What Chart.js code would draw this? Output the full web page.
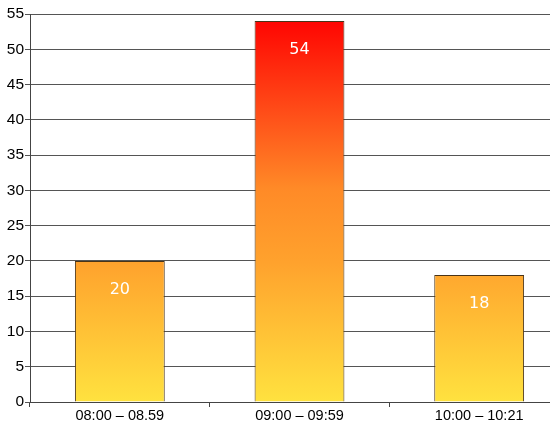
<!DOCTYPE html>
<html>
<head>
<meta charset="utf-8">
<script src="https://cdn.jsdelivr.net/npm/chart.js@4/dist/chart.umd.min.js"></script>
<style>
  html, body { margin: 0; padding: 0; background: #fff; overflow: hidden; }
  #wrap { width: 570px; height: 430px; }
</style>
</head>
<body>
<div id="wrap"><canvas id="chart1"></canvas></div>
<script>
const categories = ['08:00 \u2013 08.59', '09:00 \u2013 09:59', '10:00 \u2013 10:21'];
const counts = [20, 54, 18];
const yTicks = [0, 5, 10, 15, 20, 25, 30, 35, 40, 45, 50, 55];

// fill follows the y value: yellow at 0, red at the top of the axis
function barFill(context) {
    const area = context.chart.chartArea;
    if (!area) return '#ffb030';
    const g = context.chart.ctx.createLinearGradient(0, area.bottom, 0, area.top);
    g.addColorStop(0, '#ffe23f');
    g.addColorStop(0.36, '#ffa22d');
    g.addColorStop(0.55, '#ff8a27');
    g.addColorStop(0.75, '#ff4c18');
    g.addColorStop(1, '#ff0000');
    return g;
}

const valueLabels = {
    id: 'valueLabels',
    afterDatasetsDraw(chart) {
        const ctx = chart.ctx;
        const meta = chart.getDatasetMeta(0);
        ctx.save();
        ctx.fillStyle = '#ffffff';
        ctx.font = '16px "DejaVu Sans"';
        ctx.textAlign = 'center';
        ctx.textBaseline = 'middle';
        meta.data.forEach((bar, i) => {
            ctx.fillText(String(counts[i]), bar.x, bar.y + 28.5);
        });
        ctx.restore();
    }
};

let chart = new Chart('chart1', {
    type: 'bar',
    data: {
        labels: categories,
        datasets: [{
            data: counts,
            backgroundColor: barFill,
            borderColor: '#4a3418',
            borderWidth: 1,
            categoryPercentage: 1,
            barPercentage: 0.5
        }]
    },
    options: {
        responsive: true,
        maintainAspectRatio: false,
        animation: false,
        layout: { padding: { top: 14, right: 1, left: 0, bottom: 0 } },
        plugins: {
            legend: { display: false },
            tooltip: { enabled: false }
        },
        scales: {
            x: {
                offset: true,
                grid: { display: true, drawOnChartArea: false, tickLength: 5, color: '#444' },
                border: { color: '#444' },
                ticks: { color: '#000', font: { family: 'Liberation Sans', size: 14.5 }, padding: 0 },
                afterFit(s) { s.height = 28; }
            },
            y: {
                min: 0,
                max: 55,
                afterBuildTicks(s) { s.ticks = yTicks.map(v => ({ value: v })); },
                grid: { color: '#555', tickLength: 5 },
                border: { color: '#444' },
                ticks: { color: '#000', font: { family: 'Liberation Sans', size: 15.5 }, padding: 1 },
                afterFit(s) { s.width = 30; }
            }
        }
    },
    plugins: [valueLabels]
});
</script>
</body>
</html>
